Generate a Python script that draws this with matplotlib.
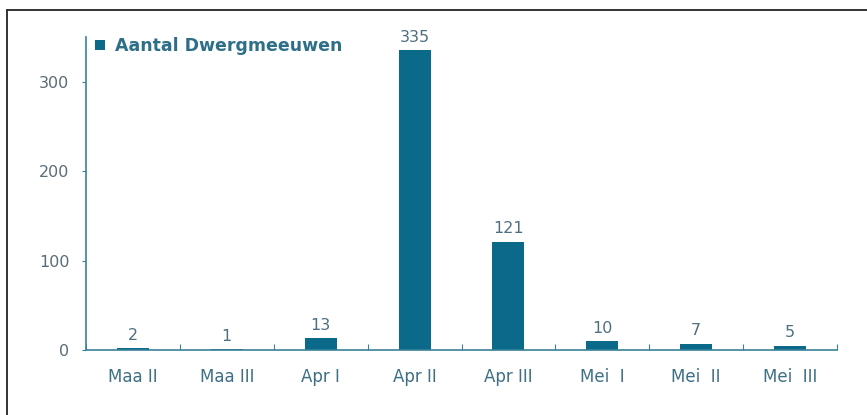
import matplotlib.pyplot as plt
from matplotlib.lines import Line2D

# Aantal Dwergmeeuwen per decade
categorieen = ['Maa II', 'Maa III', 'Apr I', 'Apr II', 'Apr III', 'Mei  I', 'Mei  II', 'Mei  III']
aantallen = [2, 1, 13, 335, 121, 10, 7, 5]

kleur_balk = '#0b6a8a'
kleur_as = '#3a8298'
kleur_tekst = '#3d6f85'

plt.rcParams['font.family'] = ['DejaVu Sans']

fig = plt.figure(figsize=(8.67, 4.15), dpi=100)
ax = fig.add_axes([86 / 867, 1 - 350 / 415, 751 / 867, 313 / 415])

x = list(range(len(categorieen)))
balken = ax.bar(x, aantallen, width=0.34, color=kleur_balk, label='Aantal Dwergmeeuwen', zorder=2)

# waarden boven de balken
for xi, v in zip(x, aantallen):
    ax.annotate(str(v), (xi, v), xytext=(0, 4), textcoords='offset points',
                ha='center', va='bottom', fontsize=11.5, color='#4d6f80')

ax.set_xlim(-0.5, len(categorieen) - 0.5)
ax.set_ylim(0, 350)
ax.set_yticks([0, 100, 200, 300])

# streepjes tussen de categorieen, labels in het midden
ax.set_xticks([i - 0.5 for i in range(len(categorieen) + 1)])
ax.set_xticklabels([])
ax.set_xticks(x, minor=True)
ax.set_xticklabels(categorieen, minor=True)
ax.tick_params(axis='x', which='major', direction='in', length=4, color=kleur_as)
ax.tick_params(axis='x', which='minor', length=0, pad=13, labelsize=12, labelcolor=kleur_tekst)
ax.tick_params(axis='y', direction='out', length=3, color=kleur_as, pad=9,
               labelsize=11.5, labelcolor='#5a6c78')

for s in ['top', 'right']:
    ax.spines[s].set_visible(False)
for s in ['left', 'bottom']:
    ax.spines[s].set_color(kleur_as)
    ax.spines[s].set_linewidth(1.2)

leg = ax.legend(loc='upper left', bbox_to_anchor=(0.012, 1.0), frameon=False,
                handlelength=0.55, handleheight=0.55, handletextpad=0.6,
                borderpad=0, borderaxespad=0,
                prop={'weight': 'bold', 'size': 12.5})
for t in leg.get_texts():
    t.set_color('#2e6f88')

# rand van de afbeelding (boven en links)
fig.add_artist(Line2D([7 / 867, 7 / 867], [0, 1 - 10 / 415], transform=fig.transFigure,
                      color='#333333', linewidth=1.4))
fig.add_artist(Line2D([7 / 867, 1], [1 - 10 / 415, 1 - 10 / 415], transform=fig.transFigure,
                      color='#333333', linewidth=1.4))

fig.savefig('out.png', dpi=100)
